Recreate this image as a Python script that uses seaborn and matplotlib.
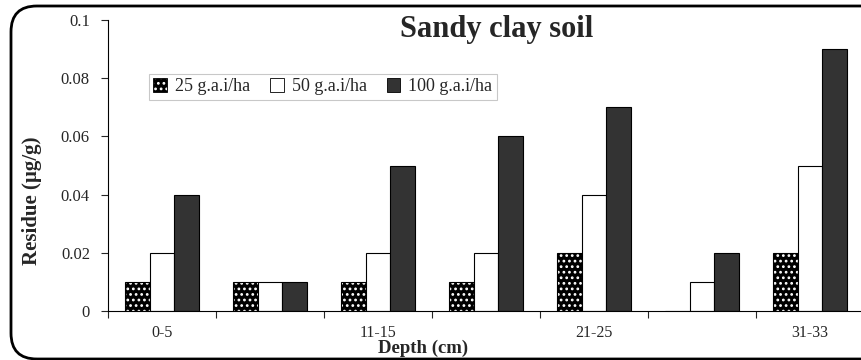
import numpy as np
import pandas as pd
import matplotlib
matplotlib.use("Agg")
import matplotlib.pyplot as plt
import seaborn as sns
from matplotlib.patches import FancyBboxPatch, Patch

# ---- data ----
depths = ["0-5", "6-10", "11-15", "16-20", "21-25", "26-30", "31-33"]
shown_labels = ["0-5", "", "11-15", "", "21-25", "", "31-33"]
series_names = ["25 g.a.i/ha", "50 g.a.i/ha", "100 g.a.i/ha"]
dose_25 = [0.01, 0.01, 0.01, 0.01, 0.02, 0.0, 0.02]
dose_50 = [0.02, 0.01, 0.02, 0.02, 0.04, 0.01, 0.05]
dose_100 = [0.04, 0.01, 0.05, 0.06, 0.07, 0.02, 0.09]
yticks = [0, 0.02, 0.04, 0.06, 0.08, 0.1]
ytick_labels = ["0", "0.02", "0.04", "0.06", "0.08", "0.1"]

df = pd.DataFrame({
    "Depth": depths * 3,
    "Dose": [series_names[0]] * 7 + [series_names[1]] * 7 + [series_names[2]] * 7,
    "Residue": dose_25 + dose_50 + dose_100,
})

sns.set_style("ticks")
plt.rcParams["font.family"] = ["Liberation Serif", "DejaVu Serif"]
plt.rcParams["hatch.linewidth"] = 1.2

W, H = 862, 360
fig = plt.figure(figsize=(W / 100, H / 100), dpi=100)
ax_left, ax_bottom = 108 / W, (H - 311) / H
ax = fig.add_axes([ax_left, ax_bottom, 756 / W, 291 / H])

palette = {series_names[0]: "#000000", series_names[1]: "#ffffff", series_names[2]: "#333333"}
sns.barplot(data=df, x="Depth", y="Residue", hue="Dose", order=depths,
            hue_order=series_names, palette=palette, width=0.68, gap=0,
            edgecolor="black", linewidth=0.8, saturation=1, ax=ax, legend=False)

# dotted pattern for the 25 g.a.i/ha series
for cont in ax.containers[:1]:
    for p in cont:
        p.set_hatch("...")
        p._hatch_color = (1, 1, 1, 1)

ax.set_xlim(-0.5, 6.5)
ax.set_ylim(0, 0.1)
ax.set_yticks(yticks)
ax.set_yticklabels(ytick_labels, fontsize=12)
ax.set_xticks(np.arange(-0.5, 7.0, 1.0))
ax.set_xticklabels([])
ax.set_xticks(np.arange(0, 7), minor=True)
ax.set_xticklabels(shown_labels, minor=True, fontsize=11.5)
ax.tick_params(axis="x", which="minor", length=0, pad=10)
ax.tick_params(axis="x", which="major", length=5, width=0.8, direction="out")
ax.tick_params(axis="y", length=5, width=0.8, direction="out", pad=8)
for s in ["top", "right"]:
    ax.spines[s].set_visible(False)
for s in ["left", "bottom"]:
    ax.spines[s].set_linewidth(0.8)
    ax.spines[s].set_color("black")

ax.set_xlabel("Depth (cm)", fontsize=13.5, fontweight="bold")
ax.xaxis.set_label_coords(0.417, -0.097)
ax.set_ylabel("Residue (µg/g)", fontsize=15, fontweight="bold")
ax.yaxis.set_label_coords(-0.087, 0.38)

fig.text(497 / W, 1 - 30 / H, "Sandy clay soil", fontsize=22, fontweight="bold",
         ha="center", va="center")

handles = [
    Patch(facecolor="black", edgecolor="black", hatch="...", linewidth=0.6),
    Patch(facecolor="white", edgecolor="black", linewidth=0.6),
    Patch(facecolor="#333333", edgecolor="black", linewidth=0.6),
]
leg = ax.legend(handles, series_names, loc="upper left", bbox_to_anchor=(0.054, 0.815),
                ncol=3, fontsize=13, frameon=True, fancybox=False, edgecolor="#bbbbbb",
                handlelength=0.75, handleheight=0.75, handletextpad=0.45,
                columnspacing=1.1, borderpad=0.25, borderaxespad=0)
leg.get_frame().set_linewidth(0.8)
for h in leg.legend_handles[:1]:
    h._hatch_color = (1, 1, 1, 1)

# rounded border around the chart (clipped on the right like the original)
box = FancyBboxPatch((11 / W, 1 / H), (W + 40) / W, (H - 7) / H,
                     boxstyle="round,pad=0,rounding_size=0.03",
                     transform=fig.transFigure, fill=False, edgecolor="black",
                     linewidth=2.0, clip_on=False, mutation_aspect=W / H)
fig.patches.append(box)

fig.savefig("out.png", dpi=100)
